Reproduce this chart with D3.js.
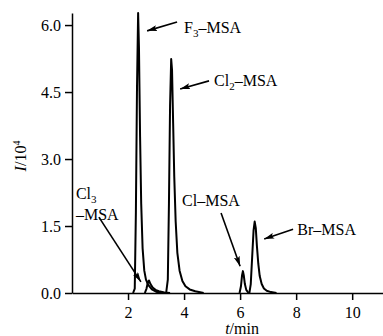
<!DOCTYPE html>
<html>
<head>
<meta charset="utf-8">
<script src="https://cdn.jsdelivr.net/npm/d3@7"></script>
<style>
  body { margin: 0; background: #fff; }
  svg text { font-family: "Liberation Serif", "Times New Roman", serif; fill: #000; }
</style>
</head>
<body>
<div id="chart"></div>
<script>
// retention times (min) and intensities (x10^4) for each peak trace
const f3Time = [2.18, 2.24, 2.28, 2.32, 2.36, 2.39, 2.43, 2.47, 2.52, 2.58, 2.64, 2.72, 2.85, 3.0, 3.2];
const f3Value = [0, 0.1, 1.8, 4.6, 6.27, 5.5, 3.5, 2.0, 1.0, 0.5, 0.3, 0.18, 0.08, 0.03, 0];
const cl3Time = [2.6, 2.66, 2.71, 2.75, 2.8, 2.88, 2.98, 3.1, 3.3, 3.5];
const cl3Value = [0, 0.1, 0.25, 0.28, 0.2, 0.12, 0.07, 0.04, 0.01, 0];
const cl2Time = [3.36, 3.42, 3.46, 3.5, 3.54, 3.57, 3.61, 3.65, 3.7, 3.76, 3.84, 3.94, 4.05, 4.2, 4.4, 4.7];
const cl2Value = [0, 0.3, 2.0, 4.2, 5.24, 5.0, 3.8, 2.6, 1.6, 0.9, 0.5, 0.27, 0.15, 0.08, 0.04, 0];
const clTime = [5.98, 6.03, 6.07, 6.1, 6.13, 6.17, 6.22, 6.3];
const clValue = [0, 0.15, 0.4, 0.49, 0.4, 0.2, 0.07, 0];
const brTime = [6.33, 6.38, 6.43, 6.48, 6.52, 6.56, 6.6, 6.65, 6.7, 6.77, 6.85, 6.95, 7.1, 7.3];
const brValue = [0, 0.2, 0.8, 1.4, 1.6, 1.45, 1.05, 0.65, 0.38, 0.2, 0.1, 0.05, 0.02, 0];

const xTicks = [2, 4, 6, 8, 10];
const yTicks = [0, 1.5, 3.0, 4.5, 6.0];

// annotations: label main text, subscript, rest, label anchor (t, I), arrow from / to (t, I)
const labelMain = ["F", "Cl", "Cl", "Br"];
const labelSub = ["3", "2", "", ""];
const labelRest = ["\u2013MSA", "\u2013MSA", "Cl\u2013MSA", "\u2013MSA"];
const labelT = [4.0, 5.07, 3.93, 8.04];
const labelI = [5.95, 4.75, 2.08, 1.43];
const arrowFromT = [3.75, 4.89, 0.96, 5.32, 7.89];
const arrowFromI = [6.07, 4.75, 1.70, 1.79, 1.43];
const arrowToT = [2.68, 3.86, 2.46, 6.0, 6.86];
const arrowToI = [5.87, 4.57, 0.25, 0.6, 1.21];

const width = 383, height = 336;
const margin = { top: 13, right: 0, bottom: 43, left: 72 };

const svg = d3.select("#chart").append("svg")
  .attr("width", width)
  .attr("height", height);

const x = d3.scaleLinear().domain([0, 11.1]).range([margin.left, width - margin.right]);
const y = d3.scaleLinear().domain([0, 6.27]).range([height - margin.bottom, margin.top]);

svg.append("defs").append("marker")
  .attr("id", "head")
  .attr("viewBox", "0 0 10 6")
  .attr("refX", 10).attr("refY", 3)
  .attr("markerWidth", 10).attr("markerHeight", 6)
  .attr("markerUnits", "userSpaceOnUse")
  .attr("orient", "auto")
  .append("path").attr("d", "M0,0 L10,3 L0,6 L2,3 Z").attr("fill", "#000");

// axes
const xAxis = svg.append("g")
  .attr("transform", `translate(0,${y(0)})`)
  .call(d3.axisBottom(x).tickValues(xTicks).tickSize(7).tickSizeOuter(0).tickFormat(d3.format("d")));
const yAxis = svg.append("g")
  .attr("transform", `translate(${x(0)},0)`)
  .call(d3.axisLeft(y).tickValues(yTicks).tickSize(7).tickSizeOuter(0).tickFormat(d3.format(".1f")));

[xAxis, yAxis].forEach(g => {
  g.selectAll("path, line").attr("stroke", "#000").attr("stroke-width", 1.5);
  g.selectAll("text").attr("font-size", 16).attr("font-family", "Liberation Serif");
});
xAxis.selectAll("text").attr("dy", "0.95em");
yAxis.selectAll("text").attr("dx", "-1px");

// traces
const line = d3.line().x(d => x(d[0])).y(d => y(d[1]));
const traces = [[f3Time, f3Value], [cl3Time, cl3Value], [cl2Time, cl2Value], [clTime, clValue], [brTime, brValue]];
svg.append("g").selectAll("path")
  .data(traces.map(([t, v]) => d3.zip(t, v)))
  .join("path")
  .attr("d", line)
  .attr("fill", "none")
  .attr("stroke", "#000")
  .attr("stroke-width", 2)
  .attr("stroke-linejoin", "round");

// arrows
svg.append("g").selectAll("line")
  .data(d3.range(arrowFromT.length))
  .join("line")
  .attr("x1", i => x(arrowFromT[i])).attr("y1", i => y(arrowFromI[i]))
  .attr("x2", i => x(arrowToT[i])).attr("y2", i => y(arrowToI[i]))
  .attr("stroke", "#000").attr("stroke-width", 1.6)
  .attr("marker-end", "url(#head)");

// peak labels
const labels = svg.append("g").attr("font-size", 16);
labelMain.forEach((m, i) => {
  const t = labels.append("text")
    .attr("x", x(labelT[i])).attr("y", y(labelI[i])).attr("dy", "0.35em");
  if (labelSub[i]) {
    t.append("tspan").text(m);
    t.append("tspan").attr("font-size", 11).attr("dy", 4).text(labelSub[i]);
    t.append("tspan").attr("dy", -4).text(labelRest[i]);
  } else if (m === "Cl") {
    t.text(labelRest[i]);
  } else {
    t.text(m + labelRest[i]);
  }
});

// Cl3-MSA, two lines
const cl3 = labels.append("text").attr("x", x(0.14)).attr("y", y(2.24)).attr("dy", "0.35em");
cl3.append("tspan").text("Cl");
cl3.append("tspan").attr("font-size", 11).attr("dy", 4).text("3");
labels.append("text").attr("x", x(0.14)).attr("y", y(1.77)).attr("dy", "0.35em").text("\u2013MSA");

// axis titles
const yt = svg.append("text")
  .attr("transform", "translate(26,156) rotate(-90)")
  .attr("text-anchor", "middle")
  .attr("font-size", 16);
yt.append("tspan").attr("font-style", "italic").text("I");
yt.append("tspan").text("/10");
yt.append("tspan").attr("font-size", 10).attr("dy", -6).text("4");

const xt = svg.append("text")
  .attr("x", x(6.07)).attr("y", 334)
  .attr("text-anchor", "middle")
  .attr("font-size", 16);
xt.append("tspan").attr("font-style", "italic").text("t");
xt.append("tspan").text("/min");
</script>
</body>
</html>
